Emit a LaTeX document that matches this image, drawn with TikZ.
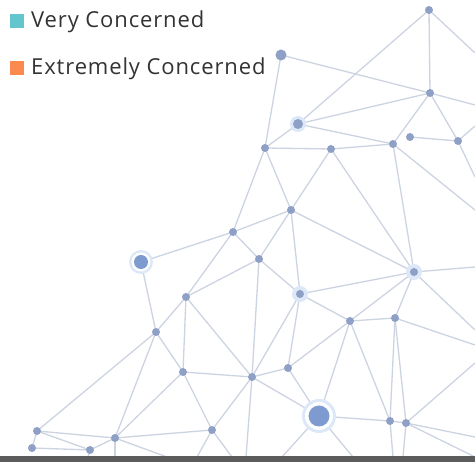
\documentclass[tikz,border=0pt]{standalone}
\usepackage{fontspec}
\setmainfont{Open Sans}
\newfontfamily\legendfont[LetterSpace=4]{Open Sans}
\definecolor{netline}{HTML}{CCD3E1}
\definecolor{netdot}{HTML}{8FA0C6}
\definecolor{netglow}{HTML}{DCE8F7}
\definecolor{hubdot}{HTML}{7E9BCF}
\definecolor{veryc}{HTML}{63C6CE}
\definecolor{extremec}{HTML}{FA8A4E}
\definecolor{txtgray}{HTML}{333333}
\definecolor{basebar}{HTML}{5C5C5C}
\begin{document}
\begin{tikzpicture}[
  x=1pt,y=-1pt,
  link/.style={netline,line width=1.3pt},
  dot/.style={circle,fill=netdot,inner sep=0pt,minimum size=8pt},
  glow/.style={circle,fill=netglow,inner sep=0pt,minimum size=16pt},
  legend/.style={font=\legendfont\fontsize{22}{25}\selectfont,text=txtgray,anchor=west,inner sep=0pt},
  swatch/.style={inner sep=0pt,minimum size=14pt}
]
  \useasboundingbox (0,0) rectangle (475,462);

  % network points
  \foreach \n/\x/\y in {a/429/10,b/281/55,c/430/93,d/298/124,e/265/148,f/331/149,
      g/393/144,h/410/137,i/458/141,j/291/210,k/233/232,l/259/259,m/141/262,
      n/414/272,o/186/297,p/300/294,q/350/321,r/395/318,s/156/332,t/183/372,
      u/252/377,v/288/368,w/319/416,x/390/421,y/406/423,z/212/430,
      aa/115/438,ab/37/431,ac/32/448,ad/90/450}{
    \coordinate (\n) at (\x,\y);
  }

  % loose ends leaving the frame
  \foreach \n/\x/\y in {ea/475/53,ec/475/105,ei1/475/126,ei2/475/177,eg/475/210,
      en1/475/267,en2/475/330,er/475/345,ey1/475/363,ey2/475/437,ey3/475/457,
      bad/88/457,baa1/115/457,baa2/167/457,bz1/197/457,bz2/232/457,bu/246/457,
      bw1/282/457,bw2/353/457,bx/393/457,by/403/457}{
    \coordinate (\n) at (\x,\y);
  }

  \foreach \s/\t in {a/c,a/d,a/ea,b/c,b/e,c/ec,c/d,c/g,c/i,d/e,d/g,
      e/f,e/j,e/k,f/g,f/j,f/n,g/n,g/eg,h/i,i/ei1,i/ei2,
      j/k,j/l,j/p,j/n,k/m,k/l,k/o,l/o,l/p,l/u,m/s,
      o/s,o/t,o/u,p/u,p/v,p/q,p/n,q/r,q/n,q/v,q/w,q/x,
      r/n,r/x,r/y,r/er,n/en1,n/en2,
      s/t,s/aa,s/ab,t/u,t/z,t/aa,u/v,u/w,u/z,u/bu,v/w,
      w/x,w/bw1,w/bw2,x/y,x/bx,y/by,y/ey1,y/ey2,y/ey3,
      z/aa,z/bz1,z/bz2,aa/ab,aa/ad,aa/baa1,aa/baa2,
      ab/ac,ab/ad,ac/ad,ad/bad}{
    \draw[link] (\s) -- (\t);
  }

  % halos
  \foreach \n in {d,n,p}{
    \node[glow] (\n-glow) at (\n) {};
  }
  \node[circle,fill=netglow,minimum size=24pt,inner sep=0pt] (m-ring) at (m) {};
  \node[circle,fill=white,minimum size=19pt,inner sep=0pt] (m-gap) at (m) {};
  \node[circle,fill=netglow,minimum size=34pt,inner sep=0pt] (w-ring) at (w) {};
  \node[circle,fill=white,minimum size=28pt,inner sep=0pt] (w-gap) at (w) {};

  \foreach \n in {a,c,e,f,g,h,i,j,k,l,n,o,p,q,r,s,t,u,v,x,y,z,aa,ab,ac,ad}{
    \node[dot] (\n-dot) at (\n) {};
  }
  \node[dot,minimum size=11pt] (b-dot) at (b) {};
  \node[dot,minimum size=10pt] (d-dot) at (d) {};
  \node[dot,fill=hubdot,minimum size=14pt] (m-dot) at (m) {};
  \node[dot,fill=hubdot,minimum size=21pt] (w-dot) at (w) {};

  % base line
  \fill[basebar] (0,456) rectangle (475,462);

  % legend
  \node[swatch,fill=veryc] (vc-box) at (17,21) {};
  \node[legend] (vc-text) at (31,22) {Very Concerned};
  \node[swatch,fill=extremec] (ec-box) at (17,68) {};
  \node[legend] (ec-text) at (31,69) {Extremely Concerned};
\end{tikzpicture}
\end{document}
